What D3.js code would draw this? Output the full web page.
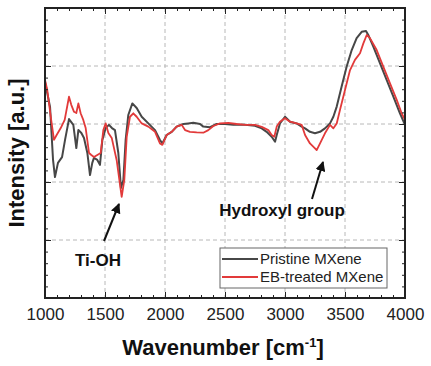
<!DOCTYPE html>
<html><head><meta charset="utf-8">
<script src="https://cdn.jsdelivr.net/npm/d3@7"></script>
<style>body{margin:0;background:#fff;} text{font-family:Arial,"Liberation Sans",sans-serif;}</style>
</head><body>
<svg id="c" width="431" height="366"></svg>
<script>
const pristineW = [1000,1042,1067,1083,1108,1142,1167,1200,1236,1261,1278,1303,1325,1353,1375,1394,1408,1436,1458,1478,1506,1533,1558,1583,1611,1633,1653,1672,1694,1728,1764,1806,1861,1917,1958,1978,2014,2056,2097,2153,2194,2236,2292,2319,2375,2431,2500,2569,2667,2750,2806,2847,2889,2917,2931,2958,3000,3042,3097,3139,3167,3208,3250,3292,3333,3375,3403,3431,3472,3514,3556,3597,3639,3675,3694,3736,3792,3847,3903,3958,4000];
const pristineI = [74.5,65.9,47.6,41.7,46.6,48.6,54.5,61.7,59.7,51.7,57.9,56.9,55.2,50.0,42.4,46.6,48.3,47.6,45.9,54.5,58.6,59.7,58.6,57.9,50.0,37.9,40.7,54.5,63.1,67.1,65.5,62.5,60.2,57.9,54.5,53.3,56.2,57.3,59.1,60.0,60.2,60.4,60.0,59.1,58.9,60.0,60.0,59.7,59.7,59.4,58.5,57.3,55.6,53.9,56.2,60.2,62.5,60.8,60.2,59.1,58.5,57.3,56.8,57.3,58.5,60.2,62.5,66.0,72.9,79.8,85.5,89.6,91.8,92.1,90.7,86.7,80.9,75.2,69.4,63.7,59.7];
const ebW = [1000,1019,1048,1075,1097,1131,1164,1200,1219,1242,1261,1278,1297,1319,1339,1367,1386,1408,1436,1464,1486,1506,1528,1556,1597,1639,1661,1681,1708,1736,1764,1806,1861,1917,1958,1978,2014,2056,2097,2139,2167,2208,2264,2319,2361,2403,2458,2528,2597,2667,2750,2806,2861,2889,2911,2931,2958,3000,3042,3097,3139,3167,3208,3250,3264,3292,3333,3375,3403,3431,3458,3500,3542,3583,3625,3653,3681,3708,3764,3819,3875,3931,3972,4000];
const ebI = [75.2,71.7,62.5,54.5,56.2,58.6,61.4,69.4,66.6,64.2,63.8,67.1,63.7,61.4,58.6,50.0,49.3,48.6,49.3,50.0,57.9,60.2,56.9,55.2,47.6,34.9,40.7,55.6,62.5,63.7,62.5,60.2,59.1,57.3,53.3,52.8,56.2,57.3,59.1,59.7,57.9,57.3,57.1,57.0,57.9,59.3,60.2,60.4,60.0,59.7,59.7,59.0,57.9,56.2,55.6,59.1,60.8,62.0,60.8,60.2,59.7,56.2,53.3,51.6,51.0,53.3,56.8,59.7,58.5,60.2,64.8,71.7,78.6,82.1,84.4,87.8,90.7,89.6,85.5,79.8,74.0,68.3,63.7,61.4];
const xTicks = [1000,1500,2000,2500,3000,3500,4000];
const seriesNames = ["Pristine MXene","EB-treated MXene"];
const colors = ["#474747","#e23a3a"];

const svg = d3.select("#c");
const L=45, R=405, T=8, B=298;
const x = d3.scaleLinear().domain([1000,4000]).range([L,R]);
const y = d3.scaleLinear().domain([0,100]).range([B,T]);

// grid
const g = svg.append("g");
g.selectAll(".vg").data(xTicks.slice(1,-1)).enter().append("line")
 .attr("x1",d=>x(d)).attr("x2",d=>x(d)).attr("y1",T).attr("y2",B)
 .attr("stroke","#b8b8b8").attr("stroke-dasharray","4,3").attr("stroke-width",1);
g.selectAll(".hg").data([20,40,60,80]).enter().append("line")
 .attr("x1",L).attr("x2",R).attr("y1",d=>y(d)).attr("y2",d=>y(d))
 .attr("stroke","#b8b8b8").attr("stroke-dasharray","4,3").attr("stroke-width",1);

// curves
const line = d3.line().x(d=>x(d[0])).y(d=>y(d[1]));
const p = pristineW.map((w,i)=>[w,pristineI[i]]);
const e = ebW.map((w,i)=>[w,ebI[i]]);
svg.append("path").datum(p).attr("d",line).attr("fill","none").attr("stroke",colors[0]).attr("stroke-width",2).attr("stroke-linejoin","round");
svg.append("path").datum(e).attr("d",line).attr("fill","none").attr("stroke",colors[1]).attr("stroke-width",1.8).attr("stroke-linejoin","round");

// axes (ticks inward)
const xMinor = d3.range(1000,4001,100);
const yMinor = d3.range(0,101,4);
svg.append("g").attr("transform",`translate(0,${B})`)
 .call(d3.axisBottom(x).tickValues(xMinor).tickSize(-3).tickFormat(""))
 .call(a=>a.select(".domain").remove()).selectAll("line").attr("stroke","#222");
svg.append("g").attr("transform",`translate(0,${B})`)
 .call(d3.axisBottom(x).tickValues(xTicks).tickSize(-6).tickPadding(10).tickFormat(d3.format("d")))
 .call(a=>a.select(".domain").remove())
 .call(a=>a.selectAll("line").attr("stroke","#222"))
 .call(a=>a.selectAll("text").attr("font-size","17px").attr("fill","#222").attr("font-family","Arial, 'Liberation Sans', sans-serif"));
svg.append("g").attr("transform",`translate(0,${T})`)
 .call(d3.axisTop(x).tickValues(xMinor).tickSize(-3).tickFormat(""))
 .call(a=>a.select(".domain").remove()).selectAll("line").attr("stroke","#222");
svg.append("g").attr("transform",`translate(0,${T})`)
 .call(d3.axisTop(x).tickValues(xTicks).tickSize(-6).tickFormat(""))
 .call(a=>a.select(".domain").remove()).selectAll("line").attr("stroke","#222");
svg.append("g").attr("transform",`translate(${L},0)`)
 .call(d3.axisLeft(y).tickValues(yMinor).tickSize(-3).tickFormat(""))
 .call(a=>a.select(".domain").remove()).selectAll("line").attr("stroke","#222");
svg.append("g").attr("transform",`translate(${L},0)`)
 .call(d3.axisLeft(y).tickValues([20,40,60,80]).tickSize(-6).tickFormat(""))
 .call(a=>a.select(".domain").remove()).selectAll("line").attr("stroke","#222");
svg.append("g").attr("transform",`translate(${R},0)`)
 .call(d3.axisRight(y).tickValues(yMinor).tickSize(-3).tickFormat(""))
 .call(a=>a.select(".domain").remove()).selectAll("line").attr("stroke","#222");
svg.append("g").attr("transform",`translate(${R},0)`)
 .call(d3.axisRight(y).tickValues([20,40,60,80]).tickSize(-6).tickFormat(""))
 .call(a=>a.select(".domain").remove()).selectAll("line").attr("stroke","#222");

// frame
svg.append("rect").attr("x",L).attr("y",T).attr("width",R-L).attr("height",B-T)
 .attr("fill","none").attr("stroke","#222").attr("stroke-width",2);

// axis titles
const xt = svg.append("text").attr("x",(L+R)/2-2).attr("y",355).attr("text-anchor","middle")
 .attr("font-size","22px").attr("font-weight","bold").attr("fill","#111");
xt.append("tspan").text("Wavenumber [cm");
xt.append("tspan").attr("dy",-8).attr("font-size","13px").text("-1");
xt.append("tspan").attr("dy",8).text("]");
svg.append("text").attr("transform",`translate(24,${(T+B)/2}) rotate(-90)`).attr("text-anchor","middle")
 .attr("font-size","22px").attr("font-weight","bold").attr("fill","#111").text("Intensity [a.u.]");

// annotations
const defs = svg.append("defs");
defs.append("marker").attr("id","ah").attr("viewBox","0 0 10 10").attr("refX",9).attr("refY",5)
 .attr("markerWidth",5).attr("markerHeight",5).attr("orient","auto")
 .append("path").attr("d","M0,0 L10,5 L0,10 Z").attr("fill","#111");
svg.append("line").attr("x1",104).attr("y1",241).attr("x2",119).attr("y2",204)
 .attr("stroke","#111").attr("stroke-width",2).attr("marker-end","url(#ah)");
svg.append("line").attr("x1",312).attr("y1",199).attr("x2",323).attr("y2",162)
 .attr("stroke","#111").attr("stroke-width",2).attr("marker-end","url(#ah)");
svg.append("text").attr("x",98).attr("y",266).attr("text-anchor","middle").attr("font-size","17px")
 .attr("font-weight","bold").attr("fill","#111").text("Ti-OH");
svg.append("text").attr("x",282).attr("y",216).attr("text-anchor","middle").attr("font-size","17px")
 .attr("font-weight","bold").attr("fill","#111").text("Hydroxyl group");

// legend
const lg = svg.append("g");
lg.append("rect").attr("x",220).attr("y",248).attr("width",167).attr("height",40)
 .attr("fill","#fff").attr("stroke","#666").attr("stroke-width",1);
seriesNames.forEach((n,i)=>{
  const yy = 259 + i*18;
  lg.append("line").attr("x1",222).attr("x2",258).attr("y1",yy).attr("y2",yy)
    .attr("stroke",colors[i]).attr("stroke-width",2);
  lg.append("text").attr("x",260).attr("y",yy+5).attr("font-size","15px").attr("fill","#222").text(n);
});
</script>
</body></html>
